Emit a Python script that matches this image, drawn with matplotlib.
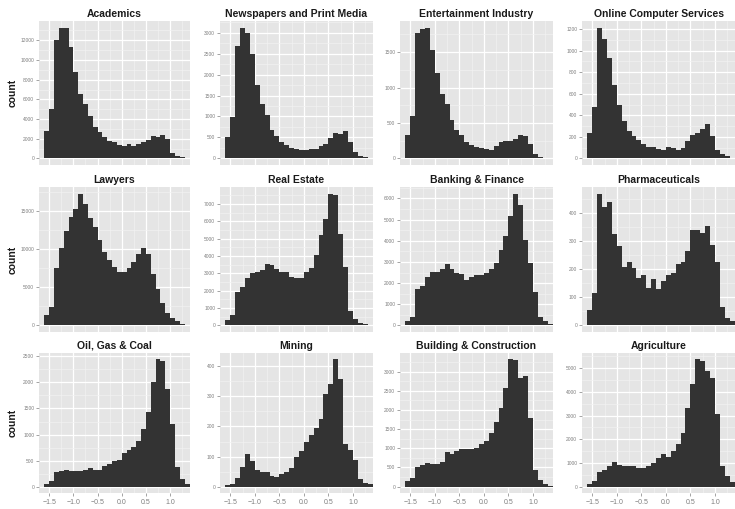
import numpy as np
from matplotlib import pyplot as plt
from matplotlib.ticker import MultipleLocator

# 30 bins of width 0.1, from -1.6 to 1.4
bin_edges = np.round(np.linspace(-1.6, 1.4, 31), 2)

titles = ["Academics", "Newspapers and Print Media", "Entertainment Industry",
          "Online Computer Services", "Lawyers", "Real Estate", "Banking & Finance",
          "Pharmaceuticals", "Oil, Gas & Coal", "Mining", "Building & Construction",
          "Agriculture"]

academics = [2800, 5000, 12000, 13300, 13300, 11300, 8800, 6500, 5500, 4300, 3200, 2700,
             2200, 1800, 1700, 1400, 1300, 1450, 1300, 1500, 1700, 1900, 2300, 2200, 2400,
             2000, 600, 300, 100, 30]
newspapers = [500, 990, 2690, 3120, 2980, 2500, 1760, 1300, 1030, 680, 530, 400, 310, 240,
              215, 210, 210, 215, 220, 290, 350, 490, 610, 580, 650, 390, 160, 50, 30, 10]
entertainment = [330, 600, 1775, 1830, 1845, 1530, 1200, 905, 765, 545, 400, 330, 230, 190,
                 165, 150, 140, 125, 180, 230, 250, 250, 275, 330, 315, 210, 60, 25, 5, 3]
online = [237, 477, 1215, 1105, 930, 683, 492, 345, 252, 206, 175, 138, 110, 108, 92, 77,
          108, 98, 83, 95, 166, 222, 237, 277, 320, 212, 83, 43, 20, 5]
lawyers = [1300, 2390, 7560, 10090, 12390, 14220, 15300, 17260, 15870, 14090, 12910, 11170,
           9560, 8560, 7700, 7040, 6960, 7480, 8350, 9300, 10090, 9300, 6740, 4740, 2910,
           1610, 960, 520, 170, 50]
real_estate = [330, 620, 1935, 2220, 2710, 3000, 3095, 3190, 3540, 3480, 3230, 3095, 3055,
               2800, 2710, 2750, 3055, 3330, 4060, 5220, 6150, 7600, 7540, 5260, 3385, 810,
               350, 135, 60, 20]
banking = [190, 410, 1710, 1880, 2310, 2510, 2540, 2650, 2890, 2670, 2460, 2420, 2150, 2310,
           2390, 2390, 2460, 2670, 2940, 3560, 4220, 5160, 6230, 5710, 4030, 2940, 1600, 420,
           190, 90]
pharma = [55, 115, 469, 421, 439, 327, 282, 209, 227, 205, 170, 179, 132, 166, 129, 159, 179,
          185, 218, 227, 264, 341, 339, 329, 353, 286, 227, 67, 26, 14]
oil_gas = [57, 100, 278, 297, 322, 297, 297, 303, 328, 354, 328, 328, 391, 436, 486, 511,
           644, 707, 764, 871, 1111, 1433, 2000, 2443, 2412, 1869, 1193, 385, 139, 60]
mining = [4, 9, 28, 65, 109, 84, 54, 48, 48, 37, 33, 41, 48, 61, 100, 120, 149, 171, 194,
          224, 309, 342, 423, 357, 141, 123, 89, 26, 13, 10]
building = [155, 224, 509, 560, 629, 595, 595, 655, 905, 853, 931, 974, 974, 974, 1000, 1120,
            1190, 1388, 1681, 2052, 2569, 3319, 3302, 2828, 2888, 1793, 431, 181, 69, 20]
agriculture = [125, 222, 611, 722, 889, 1028, 917, 861, 861, 861, 778, 778, 889, 986, 1222,
               1375, 1264, 1514, 1819, 2278, 3319, 4333, 5375, 5306, 4889, 4569, 3069, 889,
               431, 194]

series = [academics, newspapers, entertainment, online, lawyers, real_estate, banking,
          pharma, oil_gas, mining, building, agriculture]
y_steps = [2000, 500, 500, 200, 5000, 1000, 1000, 100, 500, 100, 500, 1000]
x_ticks = [-1.5, -1.0, -0.5, 0.0, 0.5, 1.0]

W, H = 735, 509
cols = [(39, 190), (220, 373), (400, 553), (582, 735)]
rows = [(21, 165), (187, 332), (353, 493)]

fig = plt.figure(figsize=(W / 100, H / 100), dpi=100)
plt.rcParams['font.family'] = ['Liberation Sans', 'DejaVu Sans']

for i, (title, counts) in enumerate(zip(titles, series)):
    r, c = divmod(i, 4)
    x0, x1 = cols[c]
    y0, y1 = rows[r]
    ax = fig.add_axes([x0 / W, 1 - y1 / H, (x1 - x0) / W, (y1 - y0) / H])
    ax.set_facecolor('#E5E5E5')
    ax.bar(bin_edges[:-1], counts, width=0.1, align='edge', color='#333333', linewidth=0)
    top = max(counts)
    ax.set_ylim(-0.05 * top, 1.05 * top)
    ax.set_xlim(-1.71, 1.41)
    step = y_steps[i]
    ax.yaxis.set_major_locator(MultipleLocator(step))
    ax.yaxis.set_minor_locator(MultipleLocator(step / 2))
    ax.set_xticks(x_ticks)
    ax.xaxis.set_minor_locator(MultipleLocator(0.25))
    ax.set_axisbelow(True)
    ax.grid(which='major', color='white', linewidth=0.9)
    ax.grid(which='minor', color='#F2F2F2', linewidth=0.45)
    for s in ax.spines.values():
        s.set_visible(False)
    ax.tick_params(which='minor', length=0)
    ax.tick_params(axis='y', labelsize=3.5, labelcolor='#7F7F7F', color='#7F7F7F',
                   length=2, width=0.5, pad=1.5)
    ax.yaxis.set_major_formatter(plt.FuncFormatter(lambda v, p: "%d" % v))
    if r == 2:
        ax.tick_params(axis='x', labelsize=5, labelcolor='#7F7F7F', color='#7F7F7F',
                       length=2, width=0.5, pad=2)
        ax.set_xticklabels(["\u22121.5", "\u22121.0", "\u22120.5", "0.0", "0.5", "1.0"])
    else:
        ax.tick_params(axis='x', labelbottom=False, length=0)
    ax.set_title(title, fontsize=7.5, fontweight='bold', color='#1A1A1A', pad=3)
    if c == 0:
        fig.text(13 / W, 1 - (y0 + y1) / 2 / H, "count", rotation=90, fontsize=7.5,
                 fontweight='bold', ha='center', va='center', color='#1A1A1A')

fig.savefig("out.png", dpi=100)
